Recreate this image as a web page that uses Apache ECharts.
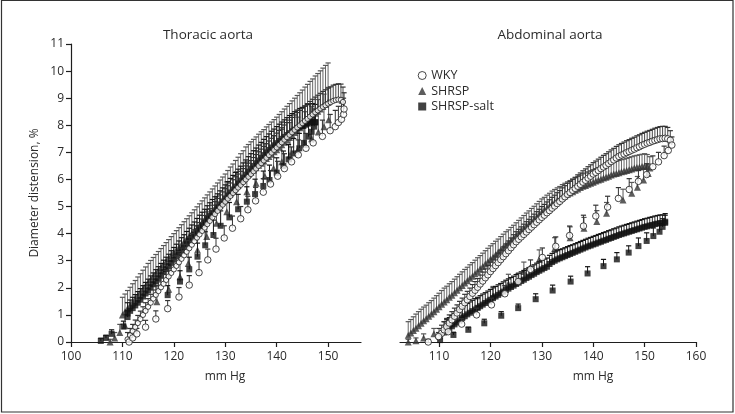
<!DOCTYPE html>
<html><head><meta charset="utf-8">
<script src="https://cdn.jsdelivr.net/npm/echarts@6/dist/echarts.min.js"></script>
<style>html,body{margin:0;padding:0;background:#fff}#c{width:735px;height:414px}</style>
</head><body><div id="c"></div>
<script>
// ---------- Tick labels ----------
const tXTicks = [100,110,120,130,140,150];
const aXTicks = [110,120,130,140,150,160];
const seriesNames = ['WKY','SHRSP','SHRSP-salt'];

// ---------- Thoracic aorta ----------
// WKY rising limb (sparse)
const tWkyUpX = [111.3,112,112.8,114.5,116.5,118.8,121,123,124.9,126.6,128.2,129.8,131.4,133,134.4,135.9,137.4,138.8,140.2,141.5,142.9,144.2,145.7,147.1,148.9,150.4,151.4,152,152.6,153,153.1];
const tWkyUpY = [0,0.15,0.3,0.55,0.85,1.23,1.66,2.1,2.56,3.03,3.43,3.84,4.2,4.55,4.88,5.21,5.53,5.83,6.12,6.4,6.65,6.91,7.15,7.35,7.59,7.8,7.95,8.1,8.22,8.4,8.6];
const tWkyUpE = [0.15,0.2,0.2,0.25,0.3,0.3,0.35,0.35,0.4,0.4,0.4,0.45,0.45,0.45,0.5,0.5,0.5,0.5,0.55,0.55,0.55,0.55,0.55,0.6,0.6,0.6,0.6,0.6,0.6,0.6,0.6];
// WKY falling limb (dense)
const tWkyDnX = [111,111.5,112,112.5,113,113.5,114,114.5,115,115.5,116,116.5,117,117.5,118,118.5,119,119.5,120,120.5,121,121.5,122,122.5,123,123.5,124,124.5,125,125.5,126,126.5,127,127.5,128,128.5,129,129.5,130,130.5,131,131.5,132,132.5,133,133.5,134,134.5,135,135.5,136,136.5,137,137.5,138,138.5,139,139.5,140,140.5,141,141.5,142,142.5,143,143.5,144,144.5,145,145.5,146,146.5,147,147.5,148,148.5,149,149.5,150,150.5,151,151.5,152,152.5,152.9];
const tWkyDnY = [0.1,0.25,0.4,0.55,0.7,0.85,1.0,1.15,1.3,1.45,1.6,1.74,1.88,2.02,2.15,2.29,2.42,2.55,2.68,2.81,2.94,3.07,3.2,3.33,3.46,3.59,3.72,3.85,3.97,4.1,4.22,4.35,4.47,4.6,4.72,4.84,4.96,5.07,5.18,5.29,5.39,5.5,5.6,5.7,5.8,5.9,6.0,6.1,6.2,6.3,6.4,6.5,6.6,6.7,6.8,6.9,6.99,7.09,7.18,7.28,7.37,7.47,7.56,7.65,7.74,7.83,7.92,8.0,8.08,8.16,8.24,8.32,8.4,8.48,8.55,8.62,8.68,8.74,8.8,8.85,8.9,8.93,8.95,8.94,8.86];
const tWkyDnE = [0.25,0.25,0.25,0.26,0.28,0.29,0.3,0.3,0.3,0.31,0.32,0.33,0.34,0.34,0.35,0.35,0.36,0.37,0.38,0.39,0.4,0.4,0.4,0.41,0.42,0.42,0.42,0.43,0.44,0.44,0.45,0.45,0.45,0.45,0.46,0.46,0.47,0.47,0.48,0.48,0.48,0.49,0.5,0.5,0.5,0.5,0.5,0.5,0.5,0.51,0.52,0.52,0.52,0.52,0.52,0.52,0.53,0.53,0.53,0.53,0.54,0.54,0.54,0.54,0.55,0.55,0.55,0.55,0.55,0.55,0.56,0.56,0.56,0.56,0.56,0.56,0.57,0.57,0.57,0.57,0.58,0.58,0.58,0.58,0.55];
// SHRSP rising limb (sparse)
const tShrUpX = [107.6,108.5,109.5,110.5,116.7,119,121.2,122.8,124.6,126.4,128.3,130.3,132.2,134.2,136,137.7,139.4,141,142.6,144.1,145.5,146.8,148.1,149.2,150.1];
const tShrUpY = [0,0.15,0.35,0.6,1.49,1.95,2.41,2.9,3.4,3.89,4.38,4.81,5.18,5.55,5.86,6.12,6.41,6.65,6.9,7.1,7.3,7.5,7.75,7.95,8.2];
const tShrUpE = [0.1,0.2,0.3,0.4,0.6,0.7,0.8,0.9,0.9,1.0,1.0,1.1,1.1,1.1,1.2,1.2,1.2,1.2,1.2,1.2,1.2,1.2,1.2,1.2,1.2];
// SHRSP falling limb (dense)
const tShrDnX = [110,110.5,111,111.5,112,112.5,113,113.5,114,114.5,115,115.5,116,116.5,117,117.5,118,118.5,119,119.5,120,120.5,121,121.5,122,122.5,123,123.5,124,124.5,125,125.5,126,126.5,127,127.5,128,128.5,129,129.5,130,130.5,131,131.5,132,132.5,133,133.5,134,134.5,135,135.5,136,136.5,137,137.5,138,138.5,139,139.5,140,140.5,141,141.5,142,142.5,143,143.5,144,144.5,145,145.5,146,146.5,147,147.5,148,148.5,149,149.5,150];
const tShrDnY = [1.0,1.12,1.24,1.36,1.48,1.6,1.72,1.84,1.96,2.08,2.2,2.31,2.42,2.53,2.64,2.75,2.86,2.97,3.08,3.19,3.3,3.4,3.5,3.6,3.7,3.8,3.9,4.0,4.1,4.2,4.3,4.4,4.49,4.59,4.68,4.78,4.87,4.97,5.06,5.16,5.25,5.36,5.47,5.57,5.68,5.78,5.89,5.99,6.1,6.18,6.27,6.35,6.43,6.52,6.6,6.68,6.77,6.85,6.93,7.02,7.1,7.19,7.28,7.37,7.46,7.55,7.64,7.73,7.82,7.91,8.0,8.09,8.18,8.27,8.35,8.44,8.52,8.6,8.69,8.77,8.85];
const tShrDnE = [0.65,0.65,0.66,0.66,0.67,0.67,0.68,0.68,0.69,0.69,0.7,0.7,0.7,0.7,0.7,0.7,0.7,0.7,0.7,0.7,0.7,0.71,0.72,0.73,0.74,0.75,0.76,0.77,0.78,0.79,0.8,0.81,0.83,0.84,0.86,0.87,0.89,0.9,0.92,0.93,0.95,0.97,0.99,1.0,1.02,1.04,1.06,1.07,1.1,1.11,1.12,1.13,1.14,1.15,1.16,1.16,1.17,1.18,1.19,1.19,1.2,1.21,1.22,1.23,1.24,1.25,1.26,1.27,1.28,1.29,1.3,1.32,1.33,1.35,1.36,1.38,1.39,1.41,1.42,1.44,1.45];
// SHRSP-salt rising limb (sparse)
const tSaltUpX = [105.8,106.8,107.9,110.2,111,118.8,121.2,123,124.6,126.1,127.7,129.1,130.8,132.5,134.2,135.8,137.4,138.6,140,141.3,142.3,143.3,144.4,145.3,146.2,146.8,147.3,147.5];
const tSaltUpY = [0.04,0.15,0.3,0.57,0.92,1.73,2.23,2.68,3.15,3.57,3.95,4.29,4.6,4.9,5.18,5.46,5.76,5.98,6.25,6.5,6.74,6.96,7.15,7.35,7.58,7.76,7.95,8.1];
const tSaltUpE = [0.1,0.1,0.15,0.2,0.25,0.35,0.4,0.45,0.5,0.5,0.55,0.55,0.55,0.55,0.55,0.55,0.55,0.55,0.55,0.55,0.55,0.55,0.55,0.55,0.55,0.55,0.55,0.5];
// SHRSP-salt falling limb (dense)
const tSaltDnX = [111,111.5,112,112.5,113,113.5,114,114.5,115,115.5,116,116.5,117,117.5,118,118.5,119,119.5,120,120.5,121,121.5,122,122.5,123,123.5,124,124.5,125,125.5,126,126.5,127,127.5,128,128.5,129,129.5,130,130.5,131,131.5,132,132.5,133,133.5,134,134.5,135,135.5,136,136.5,137,137.5,138,138.5,139,139.5,140,140.5,141,141.5,142,142.5,143,143.5,144,144.5,145,145.5,146,146.5,147,147.5];
const tSaltDnY = [1.05,1.15,1.25,1.35,1.45,1.56,1.68,1.79,1.9,2.02,2.13,2.24,2.35,2.46,2.58,2.69,2.8,2.92,3.04,3.16,3.28,3.39,3.5,3.62,3.74,3.85,3.96,4.08,4.2,4.31,4.42,4.54,4.65,4.76,4.86,4.97,5.08,5.19,5.3,5.41,5.52,5.63,5.74,5.85,5.96,6.07,6.18,6.29,6.4,6.5,6.6,6.7,6.8,6.9,7.0,7.09,7.18,7.26,7.34,7.42,7.5,7.57,7.64,7.71,7.78,7.84,7.89,7.94,7.98,8.02,8.06,8.09,8.12,8.12];
const tSaltDnE = [0.4,0.4,0.4,0.4,0.41,0.41,0.4,0.41,0.42,0.42,0.42,0.43,0.43,0.44,0.44,0.44,0.44,0.45,0.45,0.45,0.45,0.46,0.46,0.46,0.46,0.47,0.47,0.48,0.48,0.48,0.48,0.49,0.49,0.5,0.5,0.5,0.5,0.5,0.5,0.51,0.52,0.52,0.52,0.53,0.53,0.54,0.54,0.55,0.55,0.56,0.56,0.57,0.57,0.58,0.58,0.59,0.6,0.6,0.61,0.62,0.62,0.63,0.64,0.65,0.65,0.66,0.67,0.68,0.68,0.69,0.7,0.7,0.68,0.65];

// ---------- Abdominal aorta ----------
const aWkyUpX = [107.9,109.9,111.8,114.4,117.3,120.2,122.8,125.4,127.8,130.1,132.7,135.4,138.1,140.5,142.8,144.9,147,148.8,150.4,151.6,152.7,153.8,154.6,155.3];
const aWkyUpY = [0,0.2,0.38,0.66,1.0,1.37,1.78,2.23,2.68,3.12,3.53,3.93,4.28,4.65,4.98,5.3,5.63,5.93,6.18,6.47,6.65,6.88,7.07,7.27];
const aWkyUpE = [0.1,0.15,0.2,0.2,0.25,0.25,0.3,0.3,0.35,0.35,0.35,0.35,0.4,0.4,0.4,0.4,0.4,0.4,0.4,0.4,0.35,0.35,0.35,0.3];
const aWkyDnX = [110,110.5,111,111.5,112,112.5,113,113.5,114,114.5,115,115.5,116,116.5,117,117.5,118,118.5,119,119.5,120,120.5,121,121.5,122,122.5,123,123.5,124,124.5,125,125.5,126,126.5,127,127.5,128,128.5,129,129.5,130,130.5,131,131.5,132,132.5,133,133.5,134,134.5,135,135.5,136,136.5,137,137.5,138,138.5,139,139.5,140,140.5,141,141.5,142,142.5,143,143.5,144,144.5,145,145.5,146,146.5,147,147.5,148,148.5,149,149.5,150,150.5,151,151.5,152,152.5,153,153.5,154,154.5,155];
const aWkyDnY = [0.2,0.32,0.45,0.57,0.7,0.82,0.95,1.07,1.2,1.32,1.45,1.56,1.68,1.8,1.91,2.02,2.14,2.25,2.37,2.48,2.6,2.71,2.82,2.93,3.04,3.15,3.26,3.37,3.48,3.59,3.7,3.79,3.88,3.97,4.06,4.15,4.24,4.33,4.42,4.51,4.6,4.68,4.77,4.85,4.94,5.02,5.11,5.19,5.28,5.36,5.45,5.52,5.6,5.67,5.75,5.82,5.9,5.97,6.05,6.12,6.2,6.26,6.33,6.4,6.46,6.52,6.59,6.66,6.72,6.79,6.85,6.9,6.94,6.99,7.03,7.08,7.12,7.17,7.21,7.26,7.3,7.34,7.37,7.41,7.44,7.47,7.5,7.51,7.52,7.5,7.45];
const aWkyDnE = [0.3,0.3,0.3,0.3,0.3,0.3,0.3,0.3,0.3,0.3,0.31,0.31,0.31,0.32,0.32,0.32,0.33,0.33,0.33,0.34,0.35,0.35,0.35,0.35,0.35,0.36,0.36,0.36,0.36,0.37,0.37,0.37,0.37,0.38,0.38,0.38,0.38,0.39,0.39,0.39,0.4,0.4,0.4,0.4,0.4,0.4,0.4,0.4,0.41,0.41,0.41,0.41,0.41,0.41,0.42,0.42,0.42,0.42,0.42,0.42,0.42,0.42,0.42,0.42,0.43,0.43,0.43,0.43,0.43,0.43,0.43,0.43,0.44,0.44,0.44,0.44,0.44,0.44,0.44,0.44,0.44,0.44,0.44,0.44,0.45,0.45,0.45,0.45,0.44,0.42,0.35];
const aShrUpX = [104,105.5,107,109,111.5,114.5,117.5,120.5,123.5,126.5,129.5,132.5,135.5,138.2,140.7,142.6,145.8,147.5,148.6,149.8,150.7];
const aShrUpY = [0,0.05,0.15,0.3,0.6,0.95,1.3,1.7,2.15,2.6,3.05,3.45,3.85,4.2,4.45,4.75,5.24,5.49,5.71,5.98,6.22];
const aShrUpE = [0.1,0.1,0.15,0.2,0.25,0.3,0.3,0.35,0.35,0.35,0.35,0.4,0.4,0.4,0.4,0.4,0.4,0.4,0.4,0.4,0.35];
const aShrDnX = [104,104.5,105,105.5,106,106.5,107,107.5,108,108.5,109,109.5,110,110.5,111,111.5,112,112.5,113,113.5,114,114.5,115,115.5,116,116.5,117,117.5,118,118.5,119,119.5,120,120.5,121,121.5,122,122.5,123,123.5,124,124.5,125,125.5,126,126.5,127,127.5,128,128.5,129,129.5,130,130.5,131,131.5,132,132.5,133,133.5,134,134.5,135,135.5,136,136.5,137,137.5,138,138.5,139,139.5,140,140.5,141,141.5,142,142.5,143,143.5,144,144.5,145,145.5,146,146.5,147,147.5,148,148.5,149,149.5,150,150.5,151];
const aShrDnY = [0.25,0.33,0.42,0.51,0.6,0.69,0.78,0.86,0.95,1.03,1.12,1.21,1.3,1.39,1.48,1.56,1.65,1.73,1.82,1.91,2.0,2.09,2.18,2.26,2.35,2.43,2.52,2.61,2.7,2.79,2.88,2.96,3.05,3.13,3.22,3.31,3.4,3.49,3.58,3.66,3.75,3.83,3.92,4.01,4.1,4.19,4.28,4.36,4.45,4.53,4.62,4.71,4.8,4.87,4.95,5.02,5.1,5.16,5.22,5.28,5.35,5.4,5.45,5.5,5.55,5.6,5.65,5.7,5.75,5.78,5.82,5.86,5.9,5.94,5.98,6.01,6.05,6.08,6.12,6.16,6.2,6.22,6.25,6.28,6.3,6.33,6.36,6.39,6.42,6.44,6.46,6.48,6.5,6.48,6.42];
const aShrDnE = [0.5,0.5,0.51,0.52,0.52,0.52,0.51,0.5,0.5,0.5,0.5,0.5,0.5,0.51,0.51,0.5,0.5,0.5,0.5,0.5,0.5,0.5,0.5,0.5,0.5,0.5,0.5,0.5,0.49,0.49,0.49,0.5,0.5,0.5,0.5,0.49,0.49,0.49,0.49,0.48,0.48,0.48,0.48,0.48,0.48,0.48,0.48,0.48,0.48,0.48,0.48,0.48,0.48,0.47,0.47,0.47,0.47,0.47,0.47,0.46,0.46,0.46,0.46,0.46,0.46,0.46,0.46,0.46,0.46,0.46,0.46,0.46,0.46,0.46,0.46,0.46,0.46,0.46,0.46,0.46,0.45,0.45,0.45,0.45,0.45,0.45,0.45,0.45,0.45,0.45,0.45,0.45,0.45,0.44,0.42];
const aSaltUpX = [110.2,112.8,115.7,118.8,122.1,125.4,128.8,132.1,135.6,138.9,142,144.6,146.9,148.8,150.4,151.7,152.9,153.5,154];
const aSaltUpY = [0.07,0.26,0.45,0.69,0.97,1.25,1.58,1.9,2.23,2.53,2.8,3.05,3.3,3.54,3.73,3.91,4.07,4.25,4.44];
const aSaltUpE = [0.05,0.1,0.1,0.15,0.15,0.15,0.2,0.2,0.2,0.25,0.25,0.25,0.25,0.3,0.3,0.3,0.3,0.3,0.3];
const aSaltDnX = [111,111.5,112,112.5,113,113.5,114,114.5,115,115.5,116,116.5,117,117.5,118,118.5,119,119.5,120,120.5,121,121.5,122,122.5,123,123.5,124,124.5,125,125.5,126,126.5,127,127.5,128,128.5,129,129.5,130,130.5,131,131.5,132,132.5,133,133.5,134,134.5,135,135.5,136,136.5,137,137.5,138,138.5,139,139.5,140,140.5,141,141.5,142,142.5,143,143.5,144,144.5,145,145.5,146,146.5,147,147.5,148,148.5,149,149.5,150,150.5,151,151.5,152,152.5,153,153.5,154];
const aSaltDnY = [0.35,0.42,0.5,0.58,0.65,0.72,0.8,0.88,0.95,1.02,1.08,1.14,1.2,1.26,1.32,1.38,1.44,1.5,1.56,1.62,1.68,1.74,1.8,1.86,1.92,1.97,2.03,2.08,2.14,2.19,2.25,2.3,2.36,2.41,2.47,2.52,2.58,2.63,2.68,2.73,2.78,2.88,2.95,3.0,3.05,3.09,3.13,3.17,3.21,3.25,3.29,3.33,3.37,3.41,3.45,3.49,3.53,3.56,3.6,3.63,3.67,3.7,3.74,3.77,3.81,3.84,3.88,3.91,3.95,3.98,4.01,4.04,4.07,4.1,4.13,4.16,4.19,4.22,4.25,4.27,4.3,4.32,4.35,4.37,4.39,4.4,4.4];
const aSaltDnE = [0.4,0.4,0.4,0.4,0.4,0.4,0.4,0.4,0.4,0.4,0.4,0.4,0.4,0.39,0.39,0.39,0.38,0.38,0.38,0.38,0.37,0.37,0.36,0.36,0.36,0.36,0.35,0.35,0.35,0.35,0.34,0.34,0.34,0.34,0.33,0.33,0.33,0.33,0.33,0.33,0.32,0.32,0.32,0.32,0.32,0.32,0.31,0.31,0.31,0.31,0.3,0.3,0.3,0.3,0.3,0.3,0.3,0.3,0.3,0.3,0.3,0.3,0.3,0.3,0.3,0.3,0.3,0.3,0.3,0.3,0.3,0.3,0.3,0.3,0.3,0.3,0.3,0.3,0.3,0.3,0.3,0.3,0.3,0.3,0.3,0.29,0.28];

// ---------- build ----------
const zip = (xs, ys, es) => xs.map((x, i) => [x, ys[i], es[i]]);
const FONT = '"Open Sans", "Noto Sans", sans-serif';
const TXT = '#2b2b2b';

const ST = {
  WKY:  {symbol:'circle',   size:6.5, style:{color:'#ffffff', borderColor:'#1a1a1a', borderWidth:1}, bar:'#333333'},
  SHRSP:{symbol:'triangle', size:7,   style:{color:'#353535'}, bar:'#575757'},
  SALT: {symbol:'rect',     size:6,   style:{color:'#111111'}, bar:'#151515'}
};

function errRender(color, lw){
  return function(params, api){
    const x = api.value(0), y = api.value(1), e = api.value(2);
    const p0 = api.coord([x, y]), p1 = api.coord([x, y + e]);
    return {type:'group', children:[
      {type:'line', shape:{x1:p0[0], y1:p0[1], x2:p1[0], y2:p1[1]}, style:{stroke:color, lineWidth:lw}},
      {type:'line', shape:{x1:p1[0]-2.6, y1:p1[1], x2:p1[0]+2.6, y2:p1[1]}, style:{stroke:color, lineWidth:1.2}}
    ]};
  };
}
function group(name, key, g, pts, z, lw, size){
  const s = ST[key];
  return [
    {type:'custom', name:name+'-err', xAxisIndex:g, yAxisIndex:g, data:pts, encode:{x:0,y:1},
     renderItem:errRender(s.bar, lw), z:z, silent:true, clip:false},
    {type:'scatter', name:name, xAxisIndex:g, yAxisIndex:g, data:pts.map(p=>[p[0],p[1]]),
     symbol:s.symbol, symbolSize:size || s.size, itemStyle:s.style, z:z+1, silent:true}
  ];
}

const series = [].concat(
  group('SHRSP','SHRSP',0,zip(tShrDnX,tShrDnY,tShrDnE),2,0.9),
  group('SHRSP','SHRSP',0,zip(tShrUpX,tShrUpY,tShrUpE),2,1),
  group('SHRSP-salt','SALT',0,zip(tSaltDnX,tSaltDnY,tSaltDnE),4,0.9),
  group('SHRSP-salt','SALT',0,zip(tSaltUpX,tSaltUpY,tSaltUpE),4,1),
  group('WKY','WKY',0,zip(tWkyDnX,tWkyDnY,tWkyDnE),6,0.9,5.2),
  group('WKY','WKY',0,zip(tWkyUpX,tWkyUpY,tWkyUpE),6,1),
  group('SHRSP','SHRSP',1,zip(aShrDnX,aShrDnY,aShrDnE),2,0.9),
  group('SHRSP','SHRSP',1,zip(aShrUpX,aShrUpY,aShrUpE),2,1),
  group('SHRSP-salt','SALT',1,zip(aSaltDnX,aSaltDnY,aSaltDnE),4,0.9),
  group('SHRSP-salt','SALT',1,zip(aSaltUpX,aSaltUpY,aSaltUpE),4,1),
  group('WKY','WKY',1,zip(aWkyDnX,aWkyDnY,aWkyDnE),6,0.9),
  group('WKY','WKY',1,zip(aWkyUpX,aWkyUpY,aWkyUpE),6,1)
);

const axisLineStyle = {color:'#1e1e1e', width:1.2};
const labelStyle = {fontSize:12, color:TXT, fontFamily:FONT};

const chart = echarts.init(document.getElementById('c'), null, {renderer:'canvas'});
chart.setOption({
  animation:false,
  backgroundColor:'#ffffff',
  grid:[
    {left:71, top:44, width:290, height:298},
    {left:400, top:44, width:296, height:298}
  ],
  xAxis:[
    {gridIndex:0, type:'value', min:100, max:156.4, interval:10,
     axisLine:{show:true, onZero:false, lineStyle:axisLineStyle},
     axisTick:{show:true, length:5, customValues:tXTicks, lineStyle:axisLineStyle},
     axisLabel:Object.assign({margin:9, customValues:tXTicks}, labelStyle),
     splitLine:{show:false}},
    {gridIndex:1, type:'value', min:102.4, max:160,
     axisLine:{show:true, onZero:false, lineStyle:axisLineStyle},
     axisTick:{show:true, length:5, customValues:aXTicks, lineStyle:axisLineStyle},
     axisLabel:Object.assign({margin:9, customValues:aXTicks}, labelStyle),
     splitLine:{show:false}}
  ],
  yAxis:[
    {gridIndex:0, type:'value', min:0, max:11, interval:1,
     axisLine:{show:true, onZero:false, lineStyle:axisLineStyle},
     axisTick:{show:true, length:5, lineStyle:axisLineStyle},
     axisLabel:Object.assign({margin:7}, labelStyle),
     splitLine:{show:false}},
    {gridIndex:1, type:'value', min:0, max:11, show:false, splitLine:{show:false}}
  ],
  legend:{
    orient:'vertical', left:412.7, top:64, itemWidth:8, itemHeight:8, itemGap:2.5,
    selectedMode:false,
    textStyle:{fontSize:12.5, color:TXT, fontFamily:FONT},
    data:[
      {name:seriesNames[0], icon:'circle', itemStyle:{color:'#fff', borderColor:'#1a1a1a', borderWidth:1}},
      {name:seriesNames[1], icon:'triangle', itemStyle:{color:'#353535', borderWidth:0}},
      {name:seriesNames[2], icon:'rect', itemStyle:{color:'#111', borderWidth:0}}
    ]
  },
  graphic:[
    {type:'rect', shape:{x:1.5, y:0.5, width:731.5, height:411.5}, style:{fill:'none', stroke:'#333', lineWidth:1.2}, silent:true, z:-10},
    {type:'text', x:208, y:35, style:{text:'Thoracic aorta', fontSize:13.5, fill:TXT, fontFamily:FONT, align:'center', verticalAlign:'middle'}},
    {type:'text', x:550, y:35, style:{text:'Abdominal aorta', fontSize:13.5, fill:TXT, fontFamily:FONT, align:'center', verticalAlign:'middle'}},
    {type:'text', x:225, y:377, style:{text:'mm Hg', fontSize:12, fill:TXT, fontFamily:FONT, align:'center', verticalAlign:'middle'}},
    {type:'text', x:593, y:377, style:{text:'mm Hg', fontSize:12, fill:TXT, fontFamily:FONT, align:'center', verticalAlign:'middle'}},
    {type:'text', x:35, y:193, rotation:Math.PI/2, style:{text:'Diameter distension, %', fontSize:12, fill:TXT, fontFamily:FONT, align:'center', verticalAlign:'middle'}}
  ],
  series:series
});
</script></body></html>
